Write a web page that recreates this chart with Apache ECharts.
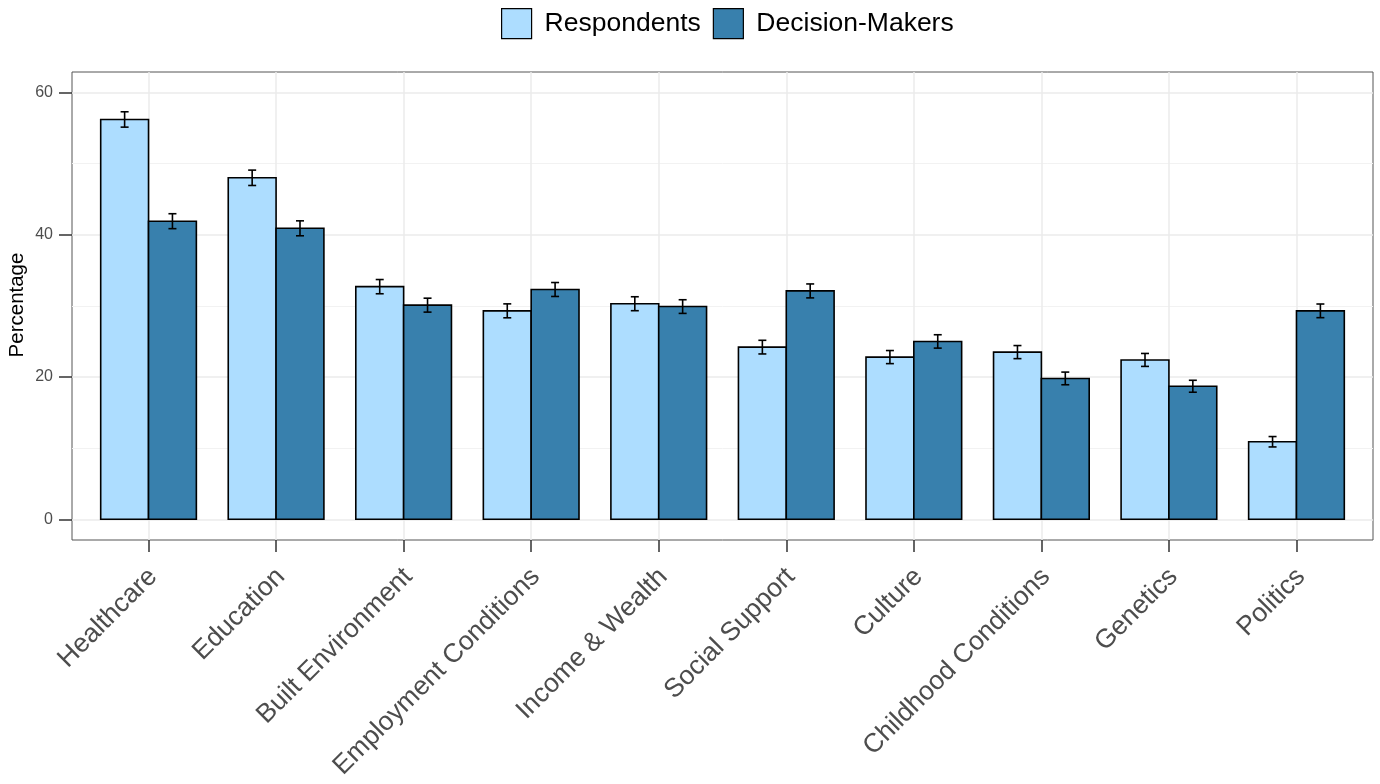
<!DOCTYPE html>
<html>
<head>
<meta charset="utf-8">
<title>Percentage by factor</title>
<script src="https://cdn.jsdelivr.net/npm/echarts@6/dist/echarts.min.js"></script>
<style>
  html, body { margin: 0; padding: 0; background: #fff; }
  #chart { width: 1380px; height: 784px; }
</style>
</head>
<body>
<div id="chart"></div>
<script>
// data
var categories = ['Healthcare', 'Education', 'Built Environment', 'Employment Conditions',
  'Income & Wealth', 'Social Support', 'Culture', 'Childhood Conditions', 'Genetics', 'Politics'];
var respondents = [56.2, 48.0, 32.7, 29.3, 30.3, 24.2, 22.8, 23.5, 22.4, 10.9];
var decisionMakers = [41.9, 40.9, 30.1, 32.3, 29.9, 32.1, 25.0, 19.8, 18.7, 29.3];
var respondentsErr = [1.08, 1.08, 1.0, 0.98, 0.98, 0.96, 0.92, 0.92, 0.91, 0.73];
var decisionMakersErr = [1.05, 1.05, 0.98, 0.98, 0.96, 0.98, 0.94, 0.89, 0.84, 0.96];
var yTicks = [0, 20, 40, 60];
var yMinorTicks = [10, 30, 50];

var FONT = 'Liberation Sans, Arial, sans-serif';
var BAR_W = 0.375; // each bar, in category units
var positions = categories.map(function (c, i) { return i + 1; });

function toData(values, errs) {
  return values.map(function (v, i) { return [i + 1, v, errs[i]]; });
}

// bar drawn left (-1) or right (+1) of the category centre
function barRenderer(side) {
  return function (params, api) {
    var x = api.value(0);
    var y = api.value(1);
    var x0 = side < 0 ? x - BAR_W : x;
    var p0 = api.coord([x0, y]);
    var p1 = api.coord([x0 + BAR_W, 0]);
    return {
      type: 'rect',
      shape: { x: p0[0], y: p0[1], width: p1[0] - p0[0], height: p1[1] - p0[1] },
      style: { fill: api.visual('color'), stroke: '#000', lineWidth: 1.6 }
    };
  };
}

function errRenderer(side) {
  return function (params, api) {
    var x = api.value(0) + side * BAR_W / 2;
    var y = api.value(1);
    var e = api.value(2);
    var top = api.coord([x, y + e]);
    var bot = api.coord([x, y - e]);
    var cap = 4;
    var st = { stroke: '#000', lineWidth: 1.6 };
    return {
      type: 'group',
      children: [
        { type: 'line', shape: { x1: top[0], y1: top[1], x2: bot[0], y2: bot[1] }, style: st },
        { type: 'line', shape: { x1: top[0] - cap, y1: top[1], x2: top[0] + cap, y2: top[1] }, style: st },
        { type: 'line', shape: { x1: bot[0] - cap, y1: bot[1], x2: bot[0] + cap, y2: bot[1] }, style: st }
      ]
    };
  };
}

var chart = echarts.init(document.getElementById('chart'));

var option = {
  backgroundColor: '#fff',
  animation: false,
  textStyle: { fontFamily: FONT },
  legend: {
    top: 3,
    left: 496,
    icon: 'rect',
    itemWidth: 30,
    itemHeight: 30,
    itemGap: 12,
    itemStyle: { borderColor: '#000', borderWidth: 1.2 },
    textStyle: { fontSize: 26.5, color: '#000', fontFamily: FONT, padding: [0, 0, 0, 8] },
    data: ['Respondents', 'Decision-Makers']
  },
  // y axis title
  graphic: [
    {
      type: 'text',
      x: 17,
      y: 305,
      rotation: Math.PI / 2,
      style: {
        text: 'Percentage',
        fontSize: 20.5,
        fontFamily: FONT,
        fill: '#000',
        align: 'center',
        verticalAlign: 'middle'
      }
    }
  ],
  grid: {
    left: 72,
    right: 7,
    top: 72,
    bottom: 244,
    outerBoundsMode: 'none',
    show: true,
    borderColor: '#555',
    borderWidth: 1
  },
  xAxis: {
    type: 'value',
    min: 0.4,
    max: 10.6,
    axisLine: { show: false, onZero: false },
    axisTick: { show: true, length: 12, customValues: positions, lineStyle: { color: '#333', width: 1.5 } },
    axisLabel: {
      customValues: positions,
      rotate: 45,
      align: 'right',
      verticalAlign: 'middle',
      margin: 28,
      fontSize: 26.5,
      color: '#4D4D4D',
      fontFamily: FONT,
      formatter: function (v) { return '{c|' + categories[Math.round(v) - 1] + '}'; },
      rich: {
        c: { fontSize: 26.5, color: '#4D4D4D', fontFamily: FONT, padding: [13, 0, 0, 0] }
      }
    },
    splitLine: { show: true, lineStyle: { color: '#EBEBEB', width: 1.5 } }
  },
  yAxis: [
    {
      type: 'value',
      min: -2.91,
      max: 62.87,
      axisLine: { show: false, onZero: false },
      axisTick: { show: true, length: 13, customValues: yTicks, lineStyle: { color: '#333', width: 1.5 } },
      axisLabel: { customValues: yTicks, fontSize: 16, color: '#4D4D4D', margin: 19, fontFamily: FONT },
      splitLine: { show: true, lineStyle: { color: '#EBEBEB', width: 1.5 } }
    },
    {
      type: 'value',
      min: -2.91,
      max: 62.87,
      axisLine: { show: false, onZero: false },
      axisTick: { show: false, customValues: yMinorTicks },
      axisLabel: { show: false, customValues: yMinorTicks },
      splitLine: { show: true, lineStyle: { color: '#F2F2F2', width: 1 } }
    }
  ],
  series: [
    {
      name: 'Respondents',
      type: 'custom',
      renderItem: barRenderer(-1),
      itemStyle: { color: '#ADDDFF', borderColor: '#000' },
      encode: { x: 0, y: 1 },
      data: toData(respondents, respondentsErr),
      z: 2
    },
    {
      name: 'Decision-Makers',
      type: 'custom',
      renderItem: barRenderer(1),
      itemStyle: { color: '#3880AD', borderColor: '#000' },
      encode: { x: 0, y: 1 },
      data: toData(decisionMakers, decisionMakersErr),
      z: 2
    },
    {
      name: 'resp-err',
      type: 'custom',
      renderItem: errRenderer(-1),
      encode: { x: 0, y: 1 },
      data: toData(respondents, respondentsErr),
      z: 3
    },
    {
      name: 'dm-err',
      type: 'custom',
      renderItem: errRenderer(1),
      encode: { x: 0, y: 1 },
      data: toData(decisionMakers, decisionMakersErr),
      z: 3
    }
  ]
};

chart.setOption(option);
</script>
</body>
</html>
